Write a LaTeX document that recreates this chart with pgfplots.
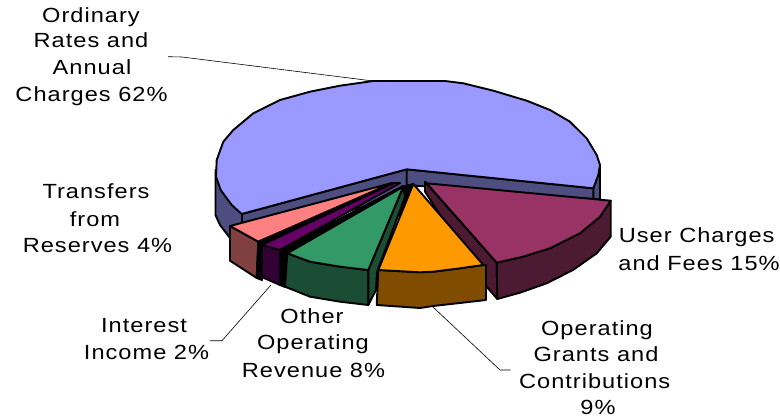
\documentclass[border=0pt]{standalone}
\usepackage{fontspec}
\setmainfont{Liberation Sans}[FakeStretch=1.15,LetterSpace=5]
\usepackage{pgfplots}
\pgfplotsset{compat=1.18}
\definecolor{bluetop}{HTML}{9999FF}
\definecolor{blueside}{HTML}{4D4D80}
\definecolor{wine}{HTML}{993366}
\definecolor{wineside}{HTML}{4D1A33}
\definecolor{orange}{HTML}{FF9900}
\definecolor{orangeside}{HTML}{804D00}
\definecolor{green}{HTML}{339966}
\definecolor{greenside}{HTML}{1A4D33}
\definecolor{purple}{HTML}{660066}
\definecolor{purpleside}{HTML}{330033}
\definecolor{pink}{HTML}{FF8080}
\definecolor{pinkside}{HTML}{804040}
\tikzset{lab/.style={font=\fontsize{20.5}{24}\selectfont, anchor=base, inner sep=0pt}}
\pgfplotsset{face/.style={draw=black, line width=1.9pt, line join=round, mark=none}}
\begin{document}
\begin{tikzpicture}
\useasboundingbox (0,0) rectangle (780pt,417pt);
\begin{axis}[
  width=780pt, height=417pt, scale only axis,
  xmin=0, xmax=780, ymin=0, ymax=417, y dir=reverse,
  hide axis, clip=false,
]
% leaders
\addplot[black, line width=0.6pt, mark=none] coordinates {(168,56.7)(182,57)(373,81)};
\addplot[black, line width=0.6pt, mark=none] coordinates {(271,285)(222,340.7)(210,340.7)};
\addplot[black, line width=0.6pt, mark=none] coordinates {(433,307)(500,370)(510.7,370)};
% blue slice: side, cut faces, top
\addplot[face, fill=blueside] coordinates {(215.5,170)(215.5,215)(220,225)(230,238)(242,245)(242,214)} --cycle;
\addplot[face, fill=blueside] coordinates {(242,214)(406.7,169.3)(406.7,195)(242,240)} --cycle;
\addplot[face, fill=blueside] coordinates {(406.7,169.3)(593.3,188.3)(593.3,199)(600,199)(600,165)(598,175)(593.3,188.3)(593.3,199)(406.7,185)} --cycle;
\addplot[face, fill=bluetop] coordinates {(241.7,214)(231.7,205)(220.7,190)(216,176.7)(216.7,160)(223.3,141.7)(233.3,130)(253.3,113.3)(280,100)(310,91.7)(340,85.7)(373.3,81)(400,81)(445,81)(463.3,83.3)(493.3,90.7)(526.7,100.7)(550,110)(570,121.7)(586.7,138.3)(596.7,155)(600,165)(598.3,175)(593.3,188.3)(406.7,169.3)} --cycle;
% pink
\addplot[face, fill=pinkside] coordinates {(230,226)(230,260.7)(256.7,278)(258.3,241.7)} --cycle;
\addplot[face, fill=pink] coordinates {(230,226)(258.3,241.7)(392,183)} --cycle;
% purple
\addplot[face, fill=black] coordinates {(258.3,241.7)(256.7,278)(262,280)(262,245)(392,185)} --cycle;
\addplot[face, fill=purpleside] coordinates {(261.7,245)(261.7,277)(280,285)(280,250)} --cycle;
\addplot[face, fill=purple] coordinates {(261.7,245)(280,250)(400,183)(394,183)} --cycle;
\addplot[face, fill=black] coordinates {(280,250)(280,285)(285,287)(287.3,253)(403,186)} --cycle;
% green
\addplot[face, fill=greenside] coordinates {(287.3,253.3)(285,286.7)(310,296.7)(340,301.7)(368.3,305)(368.3,270)(340,266.7)(310,261.7)} --cycle;
\addplot[face, fill=black] coordinates {(403.3,186.7)(413.3,184)(400,217)(396,205)} --cycle;
\addplot[face, fill=greenside] coordinates {(368.3,270)(368.3,305)(376,290)(377,272)(405,197)(403.3,186.7)} --cycle;
\addplot[face, fill=green] coordinates {(287.3,253.3)(310,261.7)(340,266.7)(368.3,270)(403.3,186.7)} --cycle;
% wine
\addplot[face, fill=wineside] coordinates {(425,181.7)(425,191.7)(486.7,286.7)(497.3,299)(496.7,262.7)} --cycle;
\addplot[face, fill=wineside] coordinates {(496.7,262.7)(497.3,299)(520,292.7)(546.7,283.3)(573,270)(596.7,253.3)(610.7,236.7)(610.7,200.7)(600,216.7)(580,233.3)(550,248.3)(523,256.7)} --cycle;
\addplot[face, fill=wine] coordinates {(426.7,183.3)(610.7,200.7)(600,216.7)(580,233.3)(550,248.3)(523,256.7)(496.7,262.7)} --cycle;
% orange
\addplot[face, fill=orangeside] coordinates {(378.3,270)(376.7,305)(420,308)(433,306)(460,303)(486,300)(486,265)(483.3,265)(460,268.3)(433.3,271.7)(420,272.3)} --cycle;
\addplot[face, fill=orange] coordinates {(413.3,184)(483.3,265)(460,268.3)(433.3,271.7)(420,272.3)(378.3,270)} --cycle;
% labels
\node[lab] at (axis cs:91,23) {Ordinary};
\node[lab] at (axis cs:91,48) {Rates and};
\node[lab] at (axis cs:92,75) {Annual};
\node[lab] at (axis cs:91.5,102) {Charges 62\%};
\node[lab] at (axis cs:96,199) {Transfers};
\node[lab] at (axis cs:95,226) {from};
\node[lab] at (axis cs:97.5,253) {Reserves 4\%};
\node[lab] at (axis cs:144,332) {Interest};
\node[lab] at (axis cs:146.5,359) {Income 2\%};
\node[lab] at (axis cs:312,323) {Other};
\node[lab] at (axis cs:313,349) {Operating};
\node[lab] at (axis cs:313.5,377) {Revenue 8\%};
\node[lab] at (axis cs:597,335) {Operating};
\node[lab] at (axis cs:596,361) {Grants and};
\node[lab] at (axis cs:594.7,388) {Contributions};
\node[lab] at (axis cs:598,414) {9\%};
\node[lab] at (axis cs:696.7,243) {User Charges};
\node[lab] at (axis cs:699,270) {and Fees 15\%};
\end{axis}
\end{tikzpicture}
\end{document}
